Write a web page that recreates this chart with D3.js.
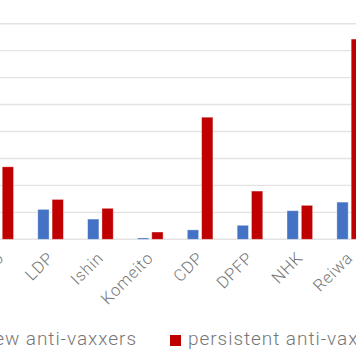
<!DOCTYPE html>
<html><head><meta charset="utf-8">
<script src="https://cdn.jsdelivr.net/npm/d3@7"></script>
<style>html,body{margin:0;padding:0;background:#fff;overflow:hidden}</style>
</head><body><svg id="c" width="356" height="364"></svg>
<script>
const categories = ["Sanseito","LDP","Ishin","Komeito","CDP","DPFP","NHK","Reiwa"];
const newAntiVaxxers = [0.9, 1.11, 0.75, 0.05, 0.35, 0.52, 1.06, 1.38];
const persistentAntiVaxxers = [2.69, 1.48, 1.15, 0.27, 4.53, 1.79, 1.26, 7.43];
const seriesNames = ["new anti-vaxxers","persistent anti-vaxxers"];
const yTicks = [0,1,2,3,4,5,6,7,8,9];
const colors = ["#4472C4","#C00000"];

const svg = d3.select("#c");
const x0 = d3.scaleBand().domain(categories).range([-24.2, 374.6]);
const x1 = d3.scaleBand().domain(seriesNames).range([-12.8, 12.8]).paddingInner(0.21);
const y = d3.scaleLinear().domain([0, 9]).range([239.3, -3.25]);

svg.append("g").selectAll("line").data(yTicks).join("line")
  .attr("x1", 0).attr("x2", 356)
  .attr("y1", d => y(d)).attr("y2", d => y(d))
  .attr("stroke", "#e3e3e3").attr("stroke-width", 1.4);

const data = categories.map((c, i) => ({c, vals: [newAntiVaxxers[i], persistentAntiVaxxers[i]]}));
const g = svg.append("g").selectAll("g").data(data).join("g")
  .attr("transform", d => `translate(${x0(d.c) + x0.bandwidth()/2},0)`);
g.selectAll("rect").data(d => d.vals.map((v, j) => ({v, s: seriesNames[j], j}))).join("rect")
  .attr("x", d => x1(d.s)).attr("width", x1.bandwidth())
  .attr("y", d => y(d.v)).attr("height", d => y(0) - y(d.v))
  .attr("fill", d => colors[d.j])
  .attr("stroke", "rgba(255,255,255,0.45)").attr("stroke-width", 0.8);

svg.append("g").selectAll("text").data(categories).join("text")
  .attr("transform", d => `translate(${x0(d) + x0.bandwidth()/2 + 4},259) rotate(-45)`)
  .attr("text-anchor", "end")
  .attr("font-family", "Roboto, sans-serif").attr("font-size", 16.5).attr("font-weight", 300)
  .attr("letter-spacing", 0.7)
  .attr("fill", "#777").text(d => d);

// legend
const leg = svg.append("g").attr("font-family", "Roboto, sans-serif").attr("font-size", 19)
  .attr("font-weight", 300).attr("letter-spacing", 0.95).attr("fill", "#777");
const t0 = leg.append("text").attr("x", 137).attr("y", 345).attr("text-anchor", "end").text(seriesNames[0]);
const w0 = t0.node().getComputedTextLength();
leg.append("rect").attr("x", 137 - w0 - 7 - 11).attr("y", 335).attr("width", 11).attr("height", 11).attr("fill", colors[0]);
leg.append("rect").attr("x", 170).attr("y", 335).attr("width", 11).attr("height", 11).attr("fill", colors[1]);
leg.append("text").attr("x", 188).attr("y", 345).text(seriesNames[1]);
</script></body></html>
